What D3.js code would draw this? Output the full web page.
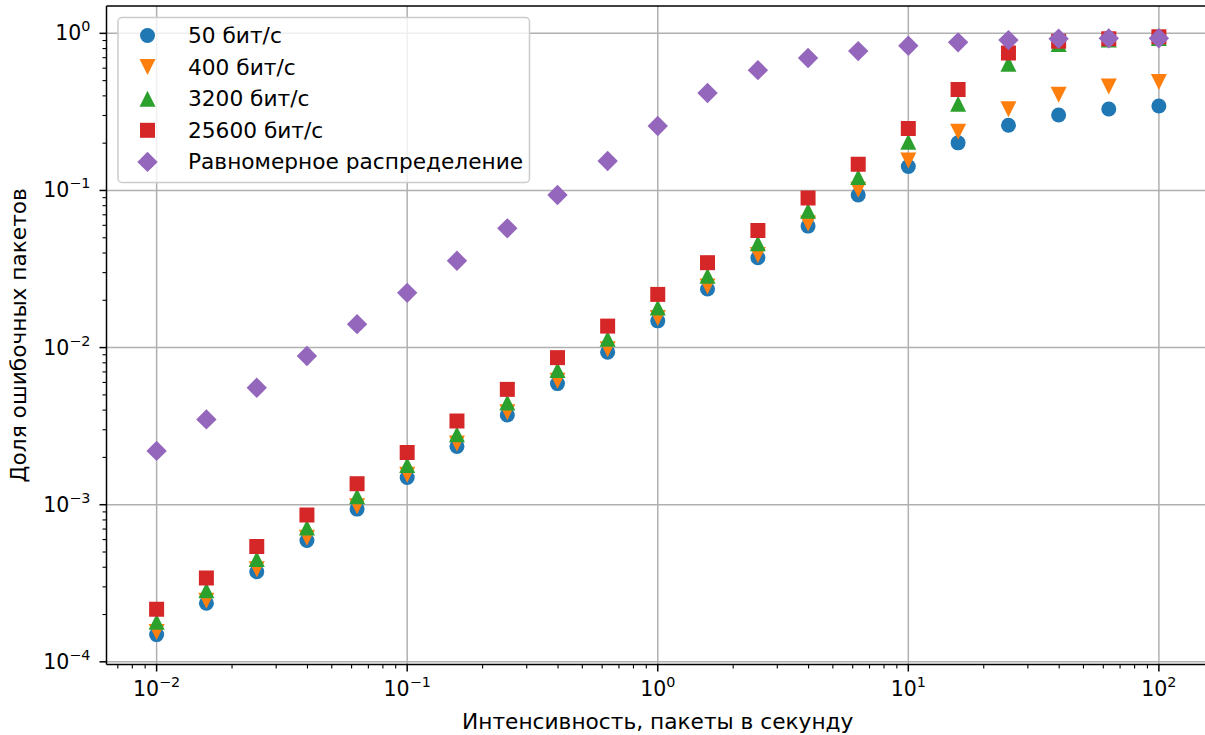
<!DOCTYPE html>
<html>
<head>
<meta charset="utf-8">
<script src="https://cdn.jsdelivr.net/npm/d3@7"></script>
<style>
  body { margin: 0; background: #fff; }
  svg { display: block; font-family: "DejaVu Sans", sans-serif; }
</style>
</head>
<body>
<svg id="chart" width="1205" height="735"></svg>
<script>
// intensity, packets per second (log grid, 5 points per decade)
const intensity = [0.01, 0.0158, 0.0251, 0.0398, 0.0631, 0.1, 0.158, 0.251, 0.398, 0.631,
    1, 1.58, 2.51, 3.98, 6.31, 10, 15.8, 25.1, 39.8, 63.1, 100];

const err50 = [1.49e-4, 2.36e-4, 3.74e-4, 5.92e-4, 9.38e-4, 1.49e-3, 2.35e-3, 3.72e-3, 5.90e-3, 9.35e-3,
    0.0148, 0.0236, 0.0373, 0.0593, 0.0935, 0.142, 0.201, 0.260, 0.302, 0.330, 0.345];
const err400 = [1.55e-4, 2.45e-4, 3.89e-4, 6.16e-4, 9.76e-4, 1.55e-3, 2.45e-3, 3.88e-3, 6.15e-3, 9.75e-3,
    0.0154, 0.0245, 0.0389, 0.0617, 0.101, 0.155, 0.236, 0.329, 0.406, 0.458, 0.491];
const err3200 = [1.80e-4, 2.85e-4, 4.52e-4, 7.16e-4, 1.13e-3, 1.79e-3, 2.81e-3, 4.48e-3, 7.19e-3, 0.0114,
    0.0180, 0.0287, 0.0461, 0.0743, 0.122, 0.204, 0.356, 0.641, 0.855, 0.915, 0.935];
const err25600 = [2.16e-4, 3.42e-4, 5.42e-4, 8.60e-4, 1.36e-3, 2.15e-3, 3.41e-3, 5.42e-3, 8.63e-3, 0.0137,
    0.0218, 0.0347, 0.0556, 0.0897, 0.147, 0.248, 0.439, 0.749, 0.889, 0.923, 0.950];
const errUniform = [2.20e-3, 3.49e-3, 5.55e-3, 8.83e-3, 0.0141, 0.0223, 0.0357, 0.0574, 0.0935, 0.154,
    0.257, 0.417, 0.583, 0.697, 0.771, 0.834, 0.876, 0.906, 0.924, 0.929, 0.930];

const seriesNames = ['50 бит/с', '400 бит/с', '3200 бит/с', '25600 бит/с', 'Равномерное распределение'];
const seriesValues = [err50, err400, err3200, err25600, errUniform];
const seriesColors = ['#1f77b4', '#ff7f0e', '#2ca02c', '#d62728', '#9467bd'];
const seriesShapes = ['circle', 'triDown', 'triUp', 'square', 'diamond'];

const xTickExp = [-2, -1, 0, 1, 2];
const yTickExp = [-4, -3, -2, -1, 0];

const xLabel = 'Интенсивность, пакеты в секунду';
const yLabel = 'Доля ошибочных пакетов';

// layout
const plot = { left: 106.5, right: 1209, top: 6, bottom: 664.5 };
const fontSize = 21.7;     // labels + legend
const tickFont = 20.5;
const gridColor = '#b0b0b0';

const svg = d3.select('#chart');

const x = d3.scaleLog()
    .domain([Math.pow(10, -2.2), Math.pow(10, 2.2)])
    .range([plot.left, plot.right]);

const y = d3.scaleLog()
    .domain([Math.pow(10, -4.017), Math.pow(10, 0.174)])
    .range([plot.bottom, plot.top]);

// marker path for a given shape, centred at 0,0
function markerPath(shape) {
    if (shape === 'circle') {
        const r = 7.5;
        return `M${r},0A${r},${r} 0 1,1 ${-r},0A${r},${r} 0 1,1 ${r},0Z`;
    }
    if (shape === 'square') {
        const h = 7.5;
        return `M${-h},${-h}H${h}V${h}H${-h}Z`;
    }
    if (shape === 'triUp') {
        const h = 8;
        return `M0,${-h}L${h},${h}L${-h},${h}Z`;
    }
    if (shape === 'triDown') {
        const h = 8;
        return `M0,${h}L${h},${-h}L${-h},${-h}Z`;
    }
    // diamond
    const d = 10.2;
    return `M0,${-d}L${d},0L0,${d}L${-d},0Z`;
}

svg.append('defs').append('clipPath').attr('id', 'plotClip')
    .append('rect')
    .attr('x', plot.left).attr('y', plot.top)
    .attr('width', plot.right - plot.left).attr('height', plot.bottom - plot.top);

// grid
const grid = svg.append('g').attr('clip-path', 'url(#plotClip)');
grid.selectAll('line.xgrid')
    .data(xTickExp)
    .join('line')
    .attr('class', 'xgrid')
    .attr('x1', d => x(Math.pow(10, d))).attr('x2', d => x(Math.pow(10, d)))
    .attr('y1', plot.top).attr('y2', plot.bottom)
    .attr('stroke', gridColor).attr('stroke-width', 1.5);
grid.selectAll('line.ygrid')
    .data(yTickExp)
    .join('line')
    .attr('class', 'ygrid')
    .attr('y1', d => y(Math.pow(10, d))).attr('y2', d => y(Math.pow(10, d)))
    .attr('x1', plot.left).attr('x2', plot.right)
    .attr('stroke', gridColor).attr('stroke-width', 1.5);

// points, one group per series
const pts = svg.append('g').attr('clip-path', 'url(#plotClip)');
seriesValues.forEach((vals, i) => {
    pts.append('g')
        .selectAll('path')
        .data(vals.map((v, j) => [intensity[j], v]))
        .join('path')
        .attr('d', markerPath(seriesShapes[i]))
        .attr('transform', d => `translate(${x(d[0])},${y(d[1])})`)
        .attr('fill', seriesColors[i]);
});

// minor tick values
function minorTicks(scale) {
    const [a, b] = scale.domain();
    const out = [];
    for (let e = Math.floor(Math.log10(a)); e <= Math.ceil(Math.log10(b)); e++) {
        for (let m = 2; m <= 9; m++) {
            const v = m * Math.pow(10, e);
            if (v >= a && v <= b) out.push(v);
        }
    }
    return out;
}

function supLabel(sel, e) {
    sel.append('tspan').text('10');
    sel.append('tspan')
        .attr('dy', -9)
        .attr('font-size', tickFont * 0.7)
        .text(e < 0 ? '\u2212' + Math.abs(e) : String(e));
}

// x axis
const xAxis = svg.append('g').attr('transform', `translate(0,${plot.bottom})`);
xAxis.append('line')
    .attr('x1', plot.left).attr('x2', plot.right)
    .attr('stroke', '#000').attr('stroke-width', 1.5);
xAxis.selectAll('line.minor')
    .data(minorTicks(x))
    .join('line')
    .attr('class', 'minor')
    .attr('x1', d => x(d)).attr('x2', d => x(d))
    .attr('y1', 0).attr('y2', 4)
    .attr('stroke', '#000').attr('stroke-width', 1.1);
xAxis.selectAll('line.major')
    .data(xTickExp)
    .join('line')
    .attr('class', 'major')
    .attr('x1', d => x(Math.pow(10, d))).attr('x2', d => x(Math.pow(10, d)))
    .attr('y1', 0).attr('y2', 7)
    .attr('stroke', '#000').attr('stroke-width', 1.5);
xAxis.selectAll('text.tick')
    .data(xTickExp)
    .join('text')
    .attr('class', 'tick')
    .attr('x', d => x(Math.pow(10, d)))
    .attr('y', 31)
    .attr('text-anchor', 'middle')
    .attr('font-size', tickFont)
    .each(function(d) { supLabel(d3.select(this), d); });

// y axis
const yAxis = svg.append('g').attr('transform', `translate(${plot.left},0)`);
yAxis.append('line')
    .attr('y1', plot.top).attr('y2', plot.bottom)
    .attr('stroke', '#000').attr('stroke-width', 1.5);
yAxis.selectAll('line.minor')
    .data(minorTicks(y))
    .join('line')
    .attr('class', 'minor')
    .attr('y1', d => y(d)).attr('y2', d => y(d))
    .attr('x1', 0).attr('x2', -4)
    .attr('stroke', '#000').attr('stroke-width', 1.1);
yAxis.selectAll('line.major')
    .data(yTickExp)
    .join('line')
    .attr('class', 'major')
    .attr('y1', d => y(Math.pow(10, d))).attr('y2', d => y(Math.pow(10, d)))
    .attr('x1', 0).attr('x2', -7)
    .attr('stroke', '#000').attr('stroke-width', 1.5);
yAxis.selectAll('text.tick')
    .data(yTickExp)
    .join('text')
    .attr('class', 'tick')
    .attr('x', -16)
    .attr('y', d => y(Math.pow(10, d)) + 7)
    .attr('text-anchor', 'end')
    .attr('font-size', tickFont)
    .each(function(d) { supLabel(d3.select(this), d); });

// top spine
svg.append('line')
    .attr('x1', plot.left).attr('x2', plot.right)
    .attr('y1', plot.top).attr('y2', plot.top)
    .attr('stroke', '#000').attr('stroke-width', 1.5);

// axis labels
svg.append('text')
    .attr('x', (plot.left + plot.right) / 2)
    .attr('y', 729)
    .attr('text-anchor', 'middle')
    .attr('font-size', fontSize)
    .text(xLabel);
svg.append('text')
    .attr('transform', `translate(26,${(plot.top + plot.bottom) / 2}) rotate(-90)`)
    .attr('text-anchor', 'middle')
    .attr('font-size', fontSize)
    .text(yLabel);

// legend
const legend = svg.append('g').attr('transform', 'translate(118,17.5)');
legend.append('rect')
    .attr('width', 411.5).attr('height', 165)
    .attr('rx', 4)
    .attr('fill', '#fff').attr('fill-opacity', 0.8)
    .attr('stroke', '#cccccc').attr('stroke-width', 1.5);
const rows = legend.selectAll('g.row')
    .data(seriesNames)
    .join('g')
    .attr('class', 'row')
    .attr('transform', (d, i) => `translate(0,${18 + i * 31.6})`);
rows.append('path')
    .attr('d', (d, i) => markerPath(seriesShapes[i]))
    .attr('transform', 'translate(29.5,0)')
    .attr('fill', (d, i) => seriesColors[i]);
rows.append('text')
    .attr('x', 70)
    .attr('y', 7.5)
    .attr('font-size', fontSize)
    .text(d => d);
</script>
</body>
</html>
